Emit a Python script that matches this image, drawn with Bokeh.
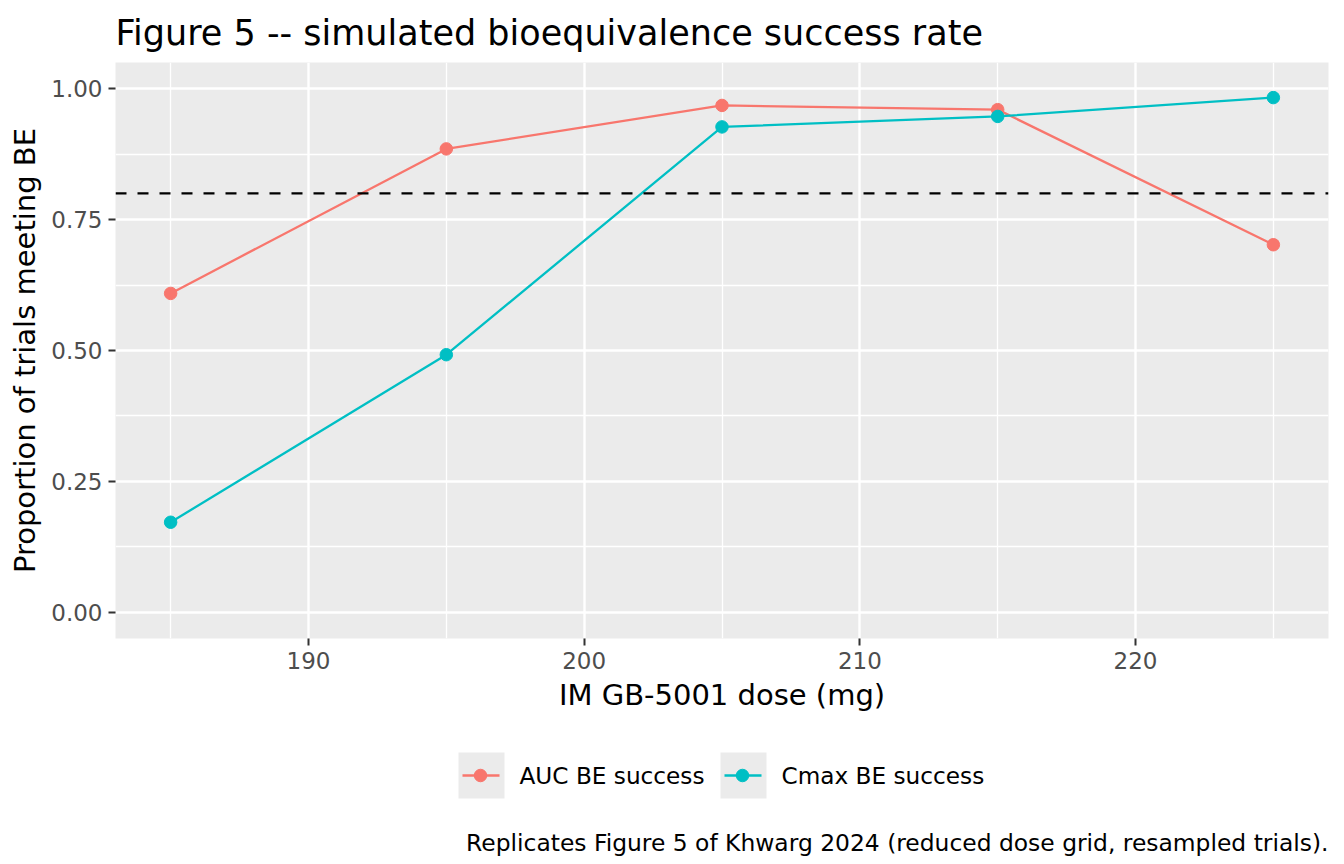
from bokeh.plotting import figure
from bokeh.models import Range1d, FixedTicker, Span
from bokeh.layouts import column
from bokeh.embed import file_html
from bokeh.resources import INLINE
from bokeh.core.properties import value

# ---- data ----
dose_mg = [185, 195, 205, 215, 225]
auc_success = [0.609, 0.885, 0.968, 0.960, 0.702]
cmax_success = [0.172, 0.492, 0.927, 0.947, 0.983]
series_names = ["AUC BE success", "Cmax BE success"]
series_colors = ["#F8766D", "#00BFC4"]
be_threshold = 0.80
x_ticks = [190, 200, 210, 220]
x_minor_ticks = [185, 195, 205, 215, 225]
y_ticks = [0.0, 0.25, 0.5, 0.75, 1.0]
y_tick_labels = ["0.00", "0.25", "0.50", "0.75", "1.00"]
y_minor_ticks = [0.125, 0.375, 0.625, 0.875]
title_text = "Figure 5 -- simulated bioequivalence success rate"
x_label = "IM GB-5001 dose (mg)"
y_label = "Proportion of trials meeting BE"
caption_text = "Replicates Figure 5 of Khwarg 2024 (reduced dose grid, resampled trials)."

FONT = "DejaVu Sans"
PANEL = "#EBEBEB"
W = 1336
B_LEFT, B_RIGHT = 115, 8

p = figure(width=W, height=740, output_backend="svg", toolbar_location=None,
           x_range=Range1d(183, 227), y_range=Range1d(-0.05, 1.05),
           min_border_left=B_LEFT, min_border_right=B_RIGHT, min_border_top=62, min_border_bottom=102)
p.background_fill_color = PANEL
p.outline_line_color = None

p.title.text = title_text
p.title.text_font = FONT
p.title.text_font_size = "35px"
p.title.text_font_style = "normal"
p.title.text_color = "black"
p.title.align = "left"
p.title.standoff = 20

p.xaxis.ticker = FixedTicker(ticks=x_ticks, minor_ticks=x_minor_ticks)
p.yaxis.ticker = FixedTicker(ticks=y_ticks, minor_ticks=y_minor_ticks)
p.yaxis.major_label_overrides = {t: l for t, l in zip(y_ticks, y_tick_labels)}

for ax in (p.xaxis[0], p.yaxis[0]):
    ax.axis_line_color = None
    ax.major_tick_line_color = "#333333"
    ax.major_tick_line_width = 2
    ax.major_tick_out = 7
    ax.major_tick_in = 0
    ax.minor_tick_line_color = None
    ax.major_label_text_font = FONT
    ax.major_label_text_font_size = "23px"
    ax.major_label_text_color = "#4D4D4D"
    ax.axis_label_text_font = FONT
    ax.axis_label_text_font_size = "29px"
    ax.axis_label_text_font_style = "normal"
    ax.axis_label_text_color = "black"
    ax.major_label_standoff = 6
    ax.axis_label_standoff = 6

p.xaxis.axis_label = x_label
p.yaxis.axis_label = y_label

p.grid.grid_line_color = "white"
p.grid.grid_line_width = 2.4
p.grid.minor_grid_line_color = "white"
p.grid.minor_grid_line_width = 1.3

p.add_layout(Span(location=be_threshold, dimension="width", line_color="black",
                  line_width=2.2, line_dash="11 11"))

for ys, name, col in zip([auc_success, cmax_success], series_names, series_colors):
    p.line(dose_mg, ys, line_color=col, line_width=2.3)
    p.scatter(dose_mg, ys, size=12.5, fill_color=col, line_color=col)

# ---- legend + caption strip (frame aligned with the main plot's frame; pixel coords) ----
L_H = 116
q = figure(width=W, height=L_H, output_backend="svg", toolbar_location=None,
           x_range=Range1d(B_LEFT, W - B_RIGHT), y_range=Range1d(L_H, 0),
           x_axis_type=None, y_axis_type=None,
           min_border_left=B_LEFT, min_border_right=B_RIGHT, min_border_top=0, min_border_bottom=0)
q.outline_line_color = None
q.grid.visible = False

legend_key_x = [458, 720]
key = 46
key_top = 12
key_mid = key_top + key / 2
for kx, name, col in zip(legend_key_x, series_names, series_colors):
    q.quad(left=[kx], right=[kx + key], top=[key_top], bottom=[key_top + key],
           fill_color=PANEL, line_color=None)
    q.line([kx + 4, kx + key - 5], [key_mid, key_mid], line_color=col, line_width=2.3)
    q.scatter([kx + key / 2 - 1], [key_mid], size=12.5, fill_color=col, line_color=col)
    q.text(x=[kx + key + 15], y=[key_mid], text=[name], text_font=value(FONT),
           text_font_size="23.2px", text_baseline="middle", text_align="left",
           text_color="black")

q.text(x=[W - B_RIGHT], y=[102], text=[caption_text], text_font=value(FONT),
       text_font_size="23.4px", text_baseline="alphabetic", text_align="right",
       text_color="black")

layout = column(p, q, spacing=0)
open("out.html", "w").write(file_html(layout, INLINE))
